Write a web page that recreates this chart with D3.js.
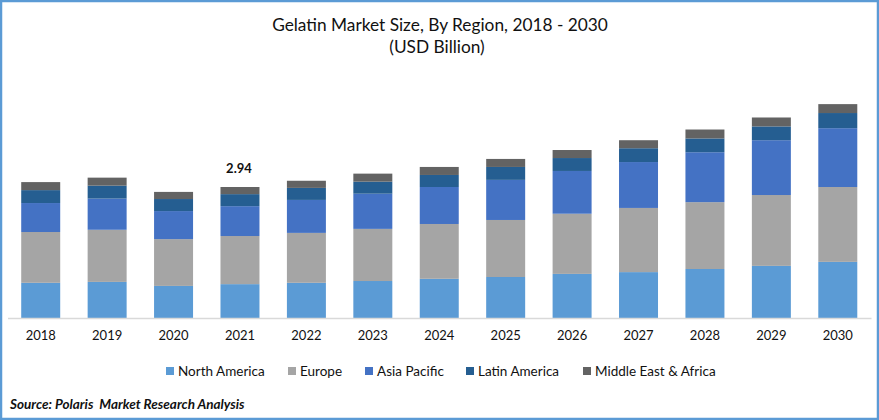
<!DOCTYPE html>
<html>
<head>
<meta charset="utf-8">
<script src="https://cdn.jsdelivr.net/npm/d3@7"></script>
<style>
    html, body { margin: 0; padding: 0; background: #fff; }
    svg { display: block; }
    text { font-family: Lato, "Open Sans", sans-serif; fill: #111; white-space: pre; }
</style>
</head>
<body>
<svg width="879" height="420"></svg>
<script>
(function() {

    var years = ['2018', '2019', '2020', '2021', '2022', '2023', '2024', '2025', '2026', '2027', '2028', '2029', '2030'];
    var regions = ['North America', 'Europe', 'Asia Pacific', 'Latin America', 'Middle East & Africa'];
    var colors = ['#5b9bd5', '#a5a5a5', '#4472c4', '#255e91', '#636363'];

    // USD billion
    var northAmerica = [0.79, 0.81, 0.72, 0.76, 0.79, 0.83, 0.88, 0.92, 0.99, 1.03, 1.10, 1.17, 1.26];
    var europe = [1.14, 1.17, 1.05, 1.08, 1.12, 1.17, 1.23, 1.28, 1.35, 1.44, 1.50, 1.59, 1.68];
    var asiaPacific = [0.65, 0.70, 0.63, 0.67, 0.74, 0.79, 0.83, 0.90, 0.96, 1.03, 1.12, 1.23, 1.32];
    var latinAmerica = [0.29, 0.29, 0.27, 0.27, 0.27, 0.27, 0.27, 0.29, 0.29, 0.31, 0.31, 0.31, 0.34];
    var middleEast = [0.18, 0.18, 0.16, 0.16, 0.16, 0.18, 0.18, 0.18, 0.18, 0.18, 0.20, 0.20, 0.20];

    var table = years.map(function(year, i) {
        return {
            year: year,
            'North America': northAmerica[i],
            'Europe': europe[i],
            'Asia Pacific': asiaPacific[i],
            'Latin America': latinAmerica[i],
            'Middle East & Africa': middleEast[i]
        };
    });

    var labelYear = '2021';
    var labelText = '2.94';

    var baseline = 318;
    var svg = d3.select('svg');

    var x = d3.scaleBand()
        .domain(years)
        .range([7.5, 871])
        .paddingInner(0.413)
        .paddingOuter(0.2065);

    // 2.94 is 131px tall in the reference
    var y = d3.scaleLinear()
        .domain([0, 5])
        .range([baseline, baseline - 5 * 131 / 2.94]);

    var color = d3.scaleOrdinal().domain(regions).range(colors);

    var stacked = d3.stack().keys(regions)(table);

    svg.selectAll('g.series')
        .data(stacked)
        .enter()
        .append('g')
        .attr('class', 'series')
        .attr('fill', (d) => color(d.key))
        .selectAll('rect')
        .data((d) => d)
        .enter()
        .append('rect')
        .attr('x', (d) => x(d.data.year))
        .attr('width', x.bandwidth())
        .attr('y', (d) => y(d[1]))
        .attr('height', (d) => y(d[0]) - y(d[1]));

    var axis = svg.append('g')
        .attr('transform', 'translate(0,' + baseline + ')')
        .call(d3.axisBottom(x).tickSize(0).tickPadding(13));
    axis.select('.domain').attr('stroke', '#d9d9d9').attr('stroke-width', 1.5);
    axis.selectAll('text')
        .style('font-family', 'Lato, "Open Sans", sans-serif')
        .style('font-size', '13px')
        .style('fill', '#111');

    // data label above the labelled bar
    svg.append('text')
        .attr('x', x(labelYear) + x.bandwidth() / 2 - 1)
        .attr('y', 173)
        .attr('text-anchor', 'middle')
        .style('font-size', '13px')
        .style('font-weight', 'bold')
        .text(labelText);

    svg.append('text')
        .attr('x', 440)
        .attr('y', 31)
        .attr('text-anchor', 'middle')
        .style('font-size', '17.3px')
        .text('Gelatin Market Size, By Region, 2018 - 2030');

    svg.append('text')
        .attr('x', 437)
        .attr('y', 53)
        .attr('text-anchor', 'middle')
        .style('font-size', '17.3px')
        .text('(USD Billion)');

    var legendX = [166, 288, 365, 466, 583];

    var legend = svg.selectAll('g.legend')
        .data(regions)
        .enter()
        .append('g')
        .attr('class', 'legend')
        .attr('transform', (d, i) => 'translate(' + legendX[i] + ',367)');

    legend.append('rect')
        .attr('width', 8)
        .attr('height', 8)
        .attr('fill', (d) => color(d));

    legend.append('text')
        .attr('x', 12)
        .attr('y', 9)
        .style('font-size', '13.5px')
        .text((d) => d);

    svg.append('text')
        .attr('x', 10)
        .attr('y', 409)
        .style('font-size', '13.5px')
        .style('font-weight', 'bold')
        .style('font-style', 'italic')
        .text('Source: Polaris  Market Research Analysis');

    // frame
    svg.append('rect')
        .attr('x', 1)
        .attr('y', 1)
        .attr('width', 877)
        .attr('height', 418)
        .attr('fill', 'none')
        .attr('stroke', '#5b9bd5')
        .attr('stroke-width', 2.5);

})();
</script>
</body>
</html>
